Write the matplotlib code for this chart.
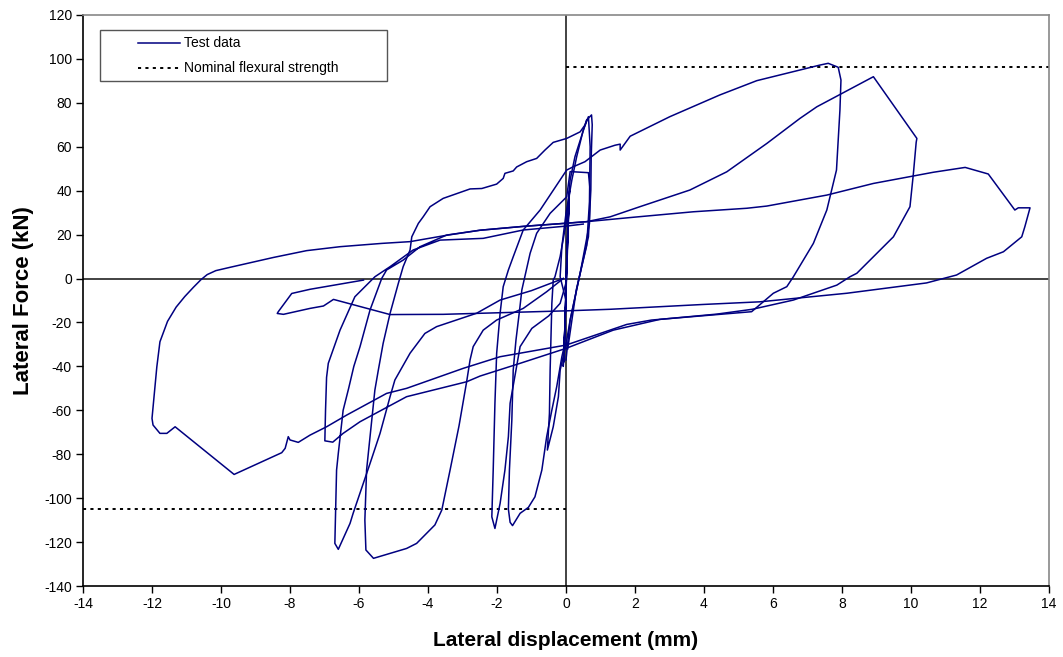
import matplotlib
matplotlib.use("Agg")
import matplotlib.pyplot as plt
from matplotlib.patches import Rectangle
from matplotlib.lines import Line2D

plt.rcParams['font.family'] = ['Liberation Sans', 'DejaVu Sans']
plt.rcParams['axes.unicode_minus'] = False

# ---------------- data (displacement mm, force kN) ----------------
# largest cycle: negative excursion to -12 mm, reload to +13.4 mm, unload, end of test
big_x = [0.00, -1.91, -2.98, -4.62, -5.20, -6.36, -6.94, -7.42, -7.76, -8.00, -8.05, -8.14, -8.24,
         -9.62, -11.33, -11.57, -11.77, -11.97, -12.00, -11.86, -11.77, -11.55, -11.30, -11.05,
         -10.80, -10.58, -10.40, -10.15, -9.74, -8.48, -7.52, -6.55, -5.34, -4.52, -3.46, -2.49,
         -1.20, 0.02, 0.60, 1.95, 3.69, 5.24, 5.82, 7.56, 8.91, 10.65, 11.57, 12.24, 13.01, 13.11,
         13.45, 13.30, 13.21, 12.68, 12.19, 11.32, 10.45, 8.14, 5.62, 3.98, 1.28, 0.02, -3.56,
         -5.10, -6.74, -7.03, -7.42, -8.19, -8.37, -8.34, -7.95, -7.42, -5.87]
big_y = [-30.3, -35.6, -40.9, -50.0, -52.3, -62.2, -67.5, -71.3, -74.6, -73.5, -72.0, -77.3, -79.3,
         -89.2, -67.5, -70.5, -70.5, -66.7, -63.7, -40.2, -28.8, -19.5, -13.0, -8.2,
         -4.0, -0.5, 1.8, 3.6, 5.1, 9.6, 12.7, 14.5, 16.0, 16.8, 19.7, 22.0,
         23.8, 25.2, 25.9, 27.9, 30.4, 32.0, 33.0, 38.0, 43.3, 48.4, 50.6, 47.6, 31.2, 32.2,
         32.2, 23.6, 19.0, 12.2, 9.2, 1.6, -2.0, -6.7, -10.6, -11.8, -14.0, -14.7, -16.3,
         -16.4, -9.5, -12.5, -13.6, -16.3, -15.9, -15.1, -6.8, -4.9, -0.7]

# cycle to -6.6 mm, then +8.9/+10.2 mm, then -7 mm
mid_x = [-0.08, -1.00, -1.91, -2.59, -3.75, -4.09, -4.52, -4.96, -5.10, -5.39, -5.68, -6.17, -6.26,
         -6.60, -6.70, -6.65, -6.60, -6.46, -6.30, -6.15, -5.97, -5.68, -5.34, -5.20, -4.72,
         -4.23, -3.46, -2.49, -1.20, 0.02, 0.60, 1.28, 2.14, 3.59, 4.08, 4.66, 5.82, 6.78, 7.27,
         8.91, 10.17, 10.15, 10.07, 9.97, 9.49, 8.43, 8.23, 7.85, 6.59, 5.40, 4.37, 2.72, 1.37,
         0.00, -1.33, -2.49, -2.88, -4.62, -5.97, -6.46, -6.76, -6.99, -6.97, -6.94, -6.89,
         -6.55, -6.12, -5.54, -5.10, -4.43, -3.65, -2.40, -1.24, 0.02, 0.50]
mid_y = [0.0, -5.5, -9.8, -15.8, -21.9, -25.0, -34.0, -46.2, -53.8, -70.5, -84.2, -106.9, -111.5,
         -123.3, -120.6, -87.2, -79.6, -60.0, -50.0, -40.0, -31.0, -14.3, 0.1, 3.9, 8.4,
         14.5, 19.8, 22.0, 23.8, 25.2, 25.9, 28.1, 32.7, 40.3, 44.1, 48.6, 61.5, 72.9, 78.2,
         91.9, 63.8, 62.0, 47.9, 32.7, 19.0, 2.4, 0.8, -3.0, -9.8, -14.0, -16.2, -18.6, -23.5,
         -31.8, -38.6, -44.4, -47.0, -53.8, -65.2, -70.5, -74.5, -73.9, -60.0, -45.0, -38.6,
         -23.5, -8.3, 0.8, 5.4, 13.0, 17.5, 18.3, 22.1, 23.9, 24.8]

# cycle to -5.7 mm (-127 kN) and reload to the small positive peak
c57_x = [-0.08, -0.56, -1.24, -2.01, -2.40, -2.69, -2.78, -2.88, -3.10, -3.36, -3.60, -3.80, -4.33,
         -4.62, -5.58, -5.80, -5.83, -5.78, -5.68, -5.54, -5.44, -5.30, -5.10, -4.86, -4.72,
         -4.52, -4.47, -4.28, -4.14, -3.94, -3.56, -2.78, -2.44, -2.01, -1.82, -1.77, -1.53,
         -1.43, -1.14, -0.85, -0.61, -0.37, 0.02, 0.41, 0.55, 0.60]
c57_y = [0.0, -6.0, -13.6, -18.9, -23.5, -31.0, -37.0, -47.0, -67.0, -87.2, -105.4, -112.2, -120.6,
         -122.9, -127.4, -123.6, -110.0, -87.2, -72.0, -50.8, -41.7, -29.5, -15.9, -2.2, 5.4,
         13.0, 19.0, 25.1, 28.1, 32.7, 36.5, 40.8, 41.0, 43.0, 45.6, 47.9, 49.0,
         50.8, 53.2, 54.7, 58.5, 62.0, 63.8, 66.8, 69.9, 72.2]

# cycle to -2 mm, reload along the envelope to +7.7 mm (98 kN), unload
c2_x = [0.00, -0.17, -0.50, -0.99, -1.33, -1.62, -1.67, -1.77, -1.91, -2.06, -2.15, -2.11, -2.06,
        -2.01, -1.91, -1.82, -1.67, -1.53, -1.24, -0.75, 0.02, 0.21, 0.55, 0.99, 1.42, 1.57,
        1.57, 1.86, 3.01, 4.46, 5.53, 7.36, 7.60, 7.89, 7.97, 7.94, 7.84, 7.56, 7.17, 6.59,
        6.40, 6.01, 5.38, 4.46, 2.48, 1.76, 0.00]
c2_y = [-2.0, -11.3, -17.0, -22.7, -31.0, -56.8, -72.0, -87.2, -102.4, -113.8, -108.5, -87.2, -56.8,
        -34.1, -15.8, -3.7, 3.9, 9.9, 22.1, 31.2, 49.4, 50.9, 53.2, 58.5, 60.7, 61.2,
        58.5, 64.8, 73.7, 83.6, 90.1, 97.2, 98.0, 96.2, 90.4, 76.7, 49.4, 31.2, 16.0, 0.8,
        -3.7, -6.7, -15.1, -16.3, -18.9, -20.9, -30.3]

# cycle to -1.6 mm
c16_x = [-0.03, -0.12, -0.27, -0.41, -0.56, -0.70, -0.90, -1.09, -1.33, -1.55, -1.62, -1.67, -1.64,
         -1.57, -1.53, -1.45, -1.35, -1.28, -1.04, -0.85, -0.46, 0.02, 0.12, 0.65, 0.70, 0.68,
         0.41, 0.12, 0.00]
c16_y = [-29.5, -35.6, -49.3, -59.9, -72.0, -87.2, -99.4, -104.2, -106.9, -112.5, -111.0, -105.0, -87.2,
         -64.4, -41.7, -28.0, -15.0, -5.2, 11.5, 20.6, 29.7, 37.2, 48.7, 48.2, 40.0, 25.0,
         2.4, -18.9, -30.0]

# cycle to -0.55 mm and the small +0.7 mm peaks
c05_x = [0.00, -0.17, -0.22, -0.37, -0.54, -0.48, -0.46, -0.41, -0.37, -0.32, -0.17, 0.00, 0.12,
         0.26, 0.60, 0.74, 0.76, 0.73, 0.72, 0.65, 0.41, 0.12, 0.00]
c05_y = [-30.0, -41.7, -53.8, -67.5, -78.1, -61.4, -41.7, -11.3, -0.7, 0.8, 10.0, 25.0, 44.9,
         55.5, 72.2, 74.5, 70.0, 55.0, 40.3, 19.0, 2.4, -18.9, -37.1]

# early elastic cycles near the origin
small_x = [0.00, 0.04, 0.08, 0.03, -0.03, -0.06, -0.02, 0.02, 0.06, 0.10, 0.04, -0.04, -0.08,
           0.00, -0.17, -0.12, 0.00, 0.17, 0.31, 0.50, 0.65, 0.70, 0.68, 0.60, 0.30, 0.05]
small_y = [0.0, 18.0, 34.0, 10.0, -20.0, -38.0, -15.0, 5.0, 25.0, 40.0, 12.0, -25.0, -40.0,
           -10.0, 0.8, 14.5, 29.7, 44.9, 55.5, 67.6, 73.7, 60.0, 35.0, 15.0, -5.0, -32.0]

# nominal flexural strength
nominal_pos = 96.5
nominal_neg = -105.0

x_ticks = list(range(-14, 15, 2))
y_ticks = list(range(-140, 121, 20))

# ---------------- figure ----------------
W, H = 1063, 657
fig = plt.figure(figsize=(W / 100, H / 100), dpi=100)
L, R, T, B = 83, 1049, 15, 586
ax = fig.add_axes([L / W, 1 - B / H, (R - L) / W, (B - T) / H])

NAVY = '#000080'
for bx, by in [(big_x, big_y), (mid_x, mid_y), (c57_x, c57_y), (c2_x, c2_y),
               (c16_x, c16_y), (c05_x, c05_y), (small_x, small_y)]:
    ax.plot(bx, by, color=NAVY, lw=1.1, solid_joinstyle='round', zorder=3)

dot = (0, (1.6, 2.2))
ax.plot([0, 14], [nominal_pos, nominal_pos], color='black', lw=1.4, linestyle=dot, zorder=2)
ax.plot([-14, 0], [nominal_neg, nominal_neg], color='black', lw=1.4, linestyle=dot, zorder=2)

ax.axhline(0, color='#222222', lw=1.2, zorder=1)
ax.axvline(0, color='#222222', lw=1.2, zorder=1)

ax.set_xlim(-14, 14)
ax.set_ylim(-140, 120)
ax.set_xticks(x_ticks)
ax.set_yticks(y_ticks)
ax.set_xticklabels([str(v) for v in x_ticks])
ax.set_yticklabels([str(v) for v in y_ticks])
ax.tick_params(direction='out', length=5, width=1, labelsize=10, colors='black', pad=3)

for s in ['left', 'bottom']:
    ax.spines[s].set_color('black')
    ax.spines[s].set_linewidth(1.2)
for s in ['top', 'right']:
    ax.spines[s].set_color('#888888')
    ax.spines[s].set_linewidth(1.2)

ax.set_xlabel('Lateral displacement (mm)', fontsize=15, fontweight='bold', labelpad=14)
ax.set_ylabel('Lateral Force (kN)', fontsize=16, fontweight='bold', labelpad=7)

# legend box (Excel style)
def axc(px, py):
    return (px - L) / (R - L), (B - py) / (B - T)

x0, y0 = axc(100, 81)
x1, y1 = axc(387, 30)
ax.add_patch(Rectangle((x0, y0), x1 - x0, y1 - y0, transform=ax.transAxes,
                       facecolor='white', edgecolor='#555555', lw=1.0, zorder=5))
lx0, ly0 = axc(138, 43)
lx1, _ = axc(180, 43)
tx, _ = axc(184, 43)
_, ly1 = axc(138, 68)
ax.add_line(Line2D([lx0, lx1], [ly0, ly0], transform=ax.transAxes, color=NAVY, lw=1.1, zorder=6))
ax.add_line(Line2D([lx0, lx1], [ly1, ly1], transform=ax.transAxes, color='black', lw=1.4,
                   linestyle=dot, zorder=6))
ax.text(tx, ly0, 'Test data', transform=ax.transAxes, fontsize=10, va='center', ha='left', zorder=7)
ax.text(tx, ly1, 'Nominal flexural strength', transform=ax.transAxes, fontsize=10,
        va='center', ha='left', zorder=7)

fig.savefig('out.png', dpi=100)
